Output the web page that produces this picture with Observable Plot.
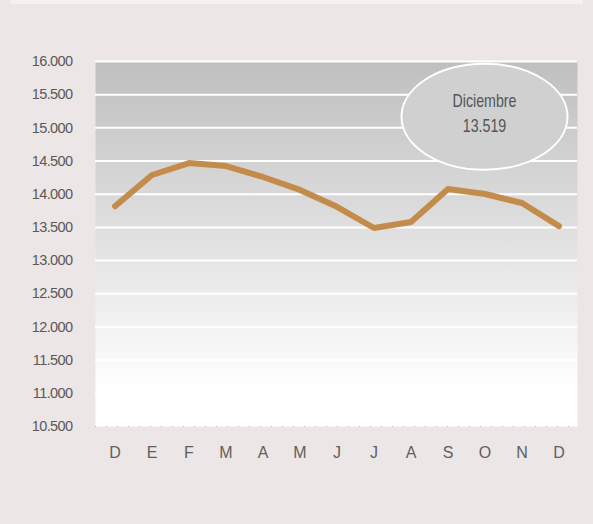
<!DOCTYPE html>
<html>
<head>
<meta charset="utf-8">
<script src="https://cdn.jsdelivr.net/npm/d3@7"></script>
<script src="https://cdn.jsdelivr.net/npm/@observablehq/plot@0.6"></script>
<style>
  html, body { margin: 0; padding: 0; background: #ece6e6; }
  #wrap { position: relative; width: 593px; height: 524px; }
  #strip { position: absolute; left: 10px; top: 0; width: 573px; height: 4px; background: #f3f1f1; }
  .yax text { font-family: 'Liberation Sans', Arial, sans-serif; font-size: 14.5px; letter-spacing: -0.6px; }
  .xax text { font-family: 'Liberation Sans', Arial, sans-serif; font-size: 16px; }
</style>
</head>
<body>
<div id="wrap"><div id="strip"></div></div>
<script>
const months = ["D", "E", "F", "M", "A", "M", "J", "J", "A", "S", "O", "N", "D"];
const values = [13820, 14290, 14470, 14425, 14260, 14065, 13810, 13491, 13581, 14079, 14003, 13868, 13519];
const yTicks = [10500, 11000, 11500, 12000, 12500, 13000, 13500, 14000, 14500, 15000, 15500, 16000];
const noteLines = ["Diciembre", "13.519"];
const noteAt = { index: 10, value: 15160 };

const keys = months.map((m, i) => i + "_" + m);
const data = values.map((v, i) => ({ key: keys[i], month: months[i], value: v }));
const fmt = d3.formatLocale({ thousands: ".", grouping: [3], decimal: "," }).format(",");

const gradientDefs = () => {
  const svgNS = "http://www.w3.org/2000/svg";
  const defs = document.createElementNS(svgNS, "defs");
  defs.innerHTML = `<linearGradient id="bg" x1="0" y1="0" x2="0" y2="1">
      <stop offset="0" stop-color="#bfbfbf"/>
      <stop offset="0.5" stop-color="#e2e2e2"/>
      <stop offset="0.9" stop-color="#ffffff"/>
      <stop offset="1" stop-color="#ffffff"/>
    </linearGradient>`;
  return defs;
};

const noteMark = (index, scales) => {
  const svgNS = "http://www.w3.org/2000/svg";
  const g = document.createElementNS(svgNS, "g");
  const step = scales.x(keys[1]) - scales.x(keys[0]);
  const cx = scales.x(keys[noteAt.index]) + step / 2;
  const cy = scales.y(noteAt.value);
  const e = document.createElementNS(svgNS, "ellipse");
  e.setAttribute("cx", cx); e.setAttribute("cy", cy);
  e.setAttribute("rx", 83); e.setAttribute("ry", 53);
  e.setAttribute("fill", "#d0d0d0"); e.setAttribute("stroke", "#ffffff"); e.setAttribute("stroke-width", 2);
  g.appendChild(e);
  noteLines.forEach((t, i) => {
    const tx = document.createElementNS(svgNS, "text");
    tx.setAttribute("x", 0);
    tx.setAttribute("y", 0);
    tx.setAttribute("transform", `translate(${cx},${cy - 10 + i * 25}) scale(0.79,1)`);
    tx.setAttribute("text-anchor", "middle");
    tx.setAttribute("font-family", "'Liberation Sans', Arial, sans-serif");
    tx.setAttribute("font-size", 18);
    tx.setAttribute("fill", "#555555");
    tx.textContent = t;
    g.appendChild(tx);
  });
  return g;
};

const chart = Plot.plot({
  width: 593,
  height: 524,
  marginLeft: 95,
  marginRight: 16,
  marginTop: 61,
  marginBottom: 98,
  style: { background: "transparent", fontFamily: "'Liberation Sans', Arial, sans-serif", color: "#595959" },
  x: { type: "band", domain: keys, padding: 0, label: null },
  y: { domain: [10500, 16000], label: null },
  marks: [
    gradientDefs,
    Plot.frame({ fill: "url(#bg)", stroke: null }),
    Plot.ruleY(yTicks.slice(1), { stroke: "#ffffff", strokeWidth: 2 }),
    Plot.ruleY([10500], { stroke: "#bbbbbb", strokeWidth: 1, strokeDasharray: "1,10" }),
    Plot.axisY({ ticks: yTicks, tickSize: 0, tickPadding: 23, tickFormat: fmt, fill: "#595959" }),
    Plot.axisX({ tickSize: 0, tickPadding: 20, tickFormat: k => k.split("_")[1], fill: "#606060" }),
    Plot.line(data, { x: "key", y: "value", stroke: "#c48c4a", strokeWidth: 6, strokeLinecap: "round", strokeLinejoin: "round" }),
    noteMark
  ]
});
document.getElementById("wrap").appendChild(chart);
chart.style.position = "absolute";
chart.style.left = "0";
chart.style.top = "0";
chart.querySelectorAll("g[aria-label='y-axis tick label']").forEach(g => g.classList.add("yax"));
chart.querySelectorAll("g[aria-label='x-axis tick label']").forEach(g => g.classList.add("xax"));
</script>
</body>
</html>
